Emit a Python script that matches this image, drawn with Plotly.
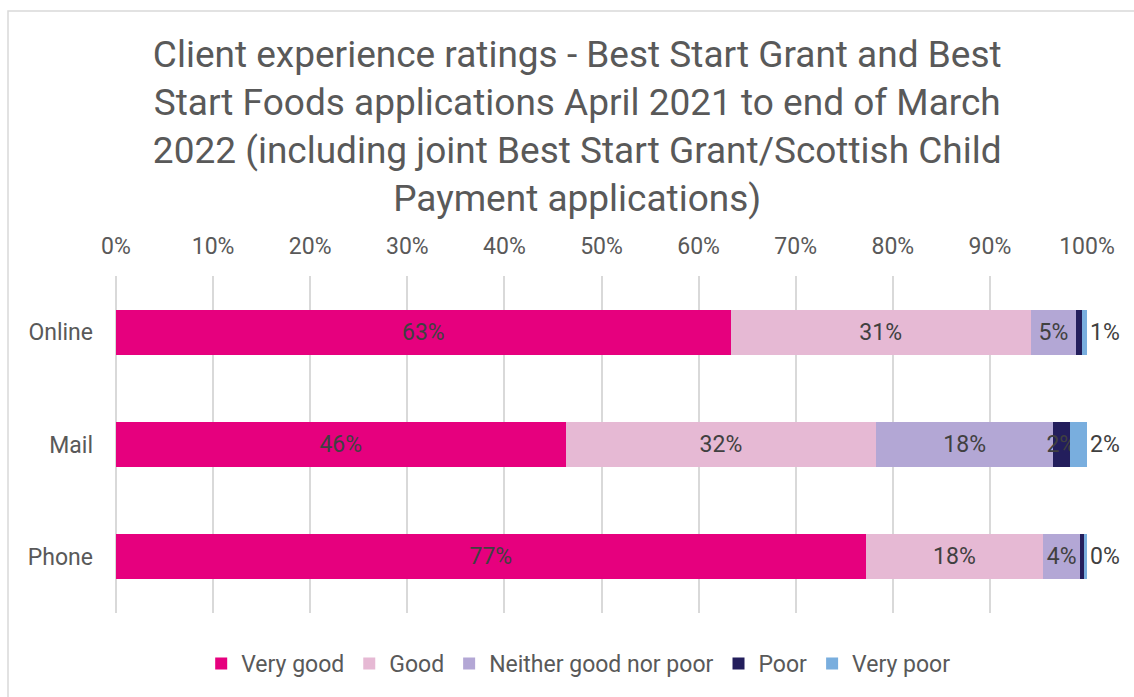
import plotly.graph_objects as go

categories = ["Online", "Mail", "Phone"]
very_good = [63.3, 46.3, 77.2]
good = [30.9, 32.0, 18.3]
neither = [4.7, 18.2, 3.8]
poor = [0.6, 1.7, 0.4]
very_poor = [0.5, 1.8, 0.3]

series = [
    ("Very good", very_good, "#E6007E"),
    ("Good", good, "#E6B9D4"),
    ("Neither good nor poor", neither, "#B3A7D5"),
    ("Poor", poor, "#231E5C"),
    ("Very poor", very_poor, "#79AEDE"),
]

font_family = "Roboto, 'Open Sans', Arial, sans-serif"
txt_color = "#404040"
lab_color = "#595959"
FS = 23

fig = go.Figure()
for i, (name, vals, col) in enumerate(series):
    last = i == len(series) - 1
    if last:
        texts = [("1%" if v < 1 else f"{v:.0f}%") if v >= 0.5 else "0%" for v in vals]
        pos = "outside"
    else:
        texts = [f"{round(v):d}%" if v >= 1 else "" for v in vals]
        pos = "inside"
    fig.add_trace(go.Bar(
        y=categories, x=vals, name=name, orientation="h",
        marker=dict(color=col, line=dict(width=0)),
        text=texts, textposition=pos, insidetextanchor="middle",
        constraintext="none", cliponaxis=False, textangle=0,
        textfont=dict(family=font_family, size=FS, color=txt_color),
        outsidetextfont=dict(family=font_family, size=FS, color=txt_color),
        hoverinfo="x+name",
    ))

fig.update_layout(
    barmode="stack",
    bargap=0.6,
    width=1134, height=697,
    margin=dict(l=116, r=47, t=276, b=84),
    paper_bgcolor="white", plot_bgcolor="white",
    font=dict(family=font_family, color=lab_color, size=FS),
    title=dict(
        text=("Client experience ratings - Best Start Grant and Best<br>"
              "Start Foods applications April 2021 to end of March<br>"
              "2022 (including joint Best Start Grant/Scottish Child<br>"
              "Payment applications)"),
        x=0.509, xanchor="center", xref="container",
        y=1 - 67 / 697, yanchor="top", yref="container",
        font=dict(family=font_family, size=37, color=lab_color),
    ),
    xaxis=dict(
        side="top", range=[0, 100], dtick=10, ticksuffix="%",
        showgrid=True, gridcolor="#D9D9D9", gridwidth=1.5,
        zeroline=True, zerolinecolor="#D9D9D9", zerolinewidth=1.5,
        showline=False, ticklabelstandoff=16,
        tickfont=dict(size=FS, color=lab_color),
        fixedrange=True,
    ),
    yaxis=dict(
        autorange="reversed", showgrid=False, zeroline=False,
        showline=False, ticks="", ticklabelstandoff=22,
        tickfont=dict(size=FS, color=lab_color),
    ),
    legend=dict(
        orientation="h", x=0.476, xanchor="center", y=-0.15, yanchor="middle",
        font=dict(size=FS, color=lab_color), traceorder="normal",
        itemwidth=30,
    ),
    showlegend=True,
)

# chart border (like the Excel chart area frame)
fig.add_shape(type="rect", xref="paper", yref="paper",
              x0=(8 - 116) / 971, x1=(1160 - 116) / 971,
              y0=(613 - 720) / 337, y1=(613 - 11) / 337,
              line=dict(color="#D9D9D9", width=1.5), fillcolor="rgba(0,0,0,0)",
              layer="below")

fig.write_html("out.html")
